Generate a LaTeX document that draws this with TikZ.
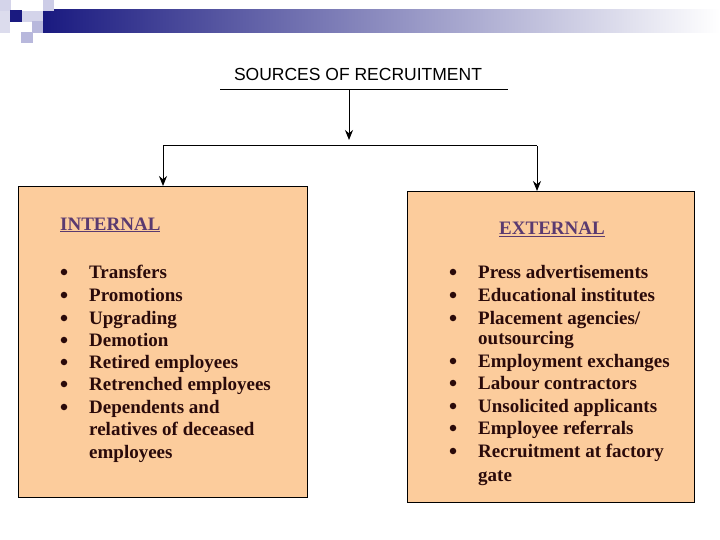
\documentclass[tikz,border=0pt]{standalone}
\usepackage{fontspec}
\usetikzlibrary{arrows.meta}
\setmainfont{Liberation Serif}
\newfontfamily\arialf{Liberation Sans}
\definecolor{boxfill}{HTML}{FCCC9C}
\definecolor{txt}{HTML}{2A0A0A}
\definecolor{head}{HTML}{5A3A70}
\definecolor{navy}{HTML}{1A1A80}
\definecolor{lav}{HTML}{B8B8DC}
\begin{document}
\begin{tikzpicture}[x=1pt,y=-1pt,
  panel/.style={draw=black,fill=boxfill,line width=0.8pt},
  item/.style={anchor=base west,font=\fontsize{19}{20}\selectfont\bfseries,text=txt,inner sep=0pt},
  bul/.style={fill=txt,circle,inner sep=2.3pt},
  heading/.style={anchor=base west,font=\fontsize{19}{20}\selectfont\bfseries,text=head,inner sep=0pt},
  conn/.style={line width=1pt},
  arr/.style={conn,-{Stealth[length=10pt,width=8pt]}}]
\useasboundingbox (0,0) rectangle (720,540);
% decoration
\shade[left color=navy,right color=white] (43,10) rectangle (720,33);
\fill[lav!60] (0,0) rectangle (11,11);
\fill[lav!70] (43,0) rectangle (54,11);
\fill[navy] (10,10) rectangle (22,22);
\fill[lav!60] (22,11) rectangle (43,22);
\fill[lav] (32,21) rectangle (43,33);
\fill[lav!50] (0,11) rectangle (10,33);
\fill[lav] (21,32) rectangle (33,43);
% title
\node[font=\arialf\fontsize{17.5}{20}\selectfont,anchor=base,inner sep=0pt] (title) at (358,81) {SOURCES OF RECRUITMENT};
\coordinate (rl) at (220,90); \coordinate (rr) at (508,90);
\draw[conn] (rl) -- (rr);
\coordinate (top) at (349,90); \coordinate (mid) at (349,140);
\draw[arr] (top) -- (mid);
\coordinate (hl) at (163,146); \coordinate (hr) at (537,146);
% boxes
\draw[panel] (18,186) rectangle (307,497);
\draw[panel] (407,191) rectangle (694,502);
\coordinate (lt) at (163,186); \coordinate (rt) at (537,191);
\draw[conn] (hl) -- (hr);
\draw[arr] (hl) -- (lt);
\draw[arr] (hr) -- (rt);
% left text
\node[heading] (ih) at (60,230) {\underline{INTERNAL}};
\foreach \t/\y [count=\i] in {Transfers/278,Promotions/301,Upgrading/324,Demotion/346,Retired employees/368,Retrenched employees/390,Dependents and/413}{
  \node[bul] (lb\i) at (64,\y-6) {};
  \node[item] (li\i) at (89,\y) {\t};}
\node[item] (li8) at (89,435) {relatives of deceased};
\node[item] (li9) at (89,458) {employees};
% right text
\node[heading] (eh) at (499,235) {\underline{EXTERNAL}};
\foreach \t/\y [count=\i] in {Press advertisements/278,Educational institutes/301,Placement agencies\slash/324,Employment exchanges/367,Labour contractors/389,Unsolicited applicants/412,Employee referrals/434,Recruitment at factory/457}{
  \node[bul] (rb\i) at (453,\y-6) {};
  \node[item] (ri\i) at (478,\y) {\t};}
\node[item] (ri9) at (478,344) {outsourcing};
\node[item] (ri10) at (478,481) {gate};
\end{tikzpicture}
\end{document}
